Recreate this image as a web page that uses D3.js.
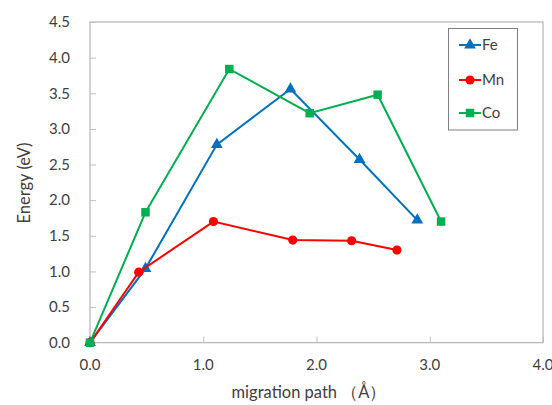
<!DOCTYPE html>
<html>
<head>
<meta charset="utf-8">
<script src="https://cdn.jsdelivr.net/npm/d3@7"></script>
<style>
  html, body { margin: 0; padding: 0; background: #fff; }
  svg { display: block; }
  text { font-family: Lato, "Open Sans", sans-serif; fill: #404040; }
</style>
</head>
<body>
<svg id="chart" width="552" height="405"></svg>
<script>
// migration path (Å) and energy (eV) for each transition metal
const feX = [0, 0.49, 1.12, 1.77, 2.38, 2.89];
const feY = [0, 1.04, 2.78, 3.56, 2.57, 1.72];
const mnX = [0, 0.43, 1.09, 1.79, 2.31, 2.71];
const mnY = [0, 0.99, 1.70, 1.44, 1.43, 1.30];
const coX = [0, 0.49, 1.23, 1.94, 2.54, 3.10];
const coY = [0, 1.83, 3.84, 3.22, 3.48, 1.70];

const seriesNames = ["Fe", "Mn", "Co"];
const xTicks = [0, 1, 2, 3, 4];
const yTicks = [0, 0.5, 1, 1.5, 2, 2.5, 3, 3.5, 4, 4.5];

const series = [
  { name: "Fe", xs: feX, ys: feY, color: "#0070C0", symbol: d3.symbolTriangle, size: 60 },
  { name: "Mn", xs: mnX, ys: mnY, color: "#FF0000", symbol: d3.symbolCircle, size: 66 },
  { name: "Co", xs: coX, ys: coY, color: "#00B050", symbol: d3.symbolSquare, size: 72 }
];

const svg = d3.select("#chart");
const plotL = 90, plotR = 543, plotT = 22, plotB = 342.7;

const x = d3.scaleLinear().domain([0, 4]).range([plotL, plotR]);
const y = d3.scaleLinear().domain([0, 4.5]).range([plotB, plotT]);

// plot frame
svg.append("rect")
  .attr("x", plotL).attr("y", plotT)
  .attr("width", plotR - plotL).attr("height", plotB - plotT)
  .attr("fill", "none").attr("stroke", "#a6a6a6").attr("stroke-width", 1);

// inside ticks
const yAxis = d3.axisRight(y).tickValues(yTicks).tickSize(6).tickFormat("");
svg.append("g").attr("transform", `translate(${plotL},0)`).call(yAxis)
  .call(g => g.select(".domain").remove())
  .call(g => g.selectAll("line").attr("stroke", "#bfbfbf"));
const xAxis = d3.axisTop(x).tickValues(xTicks).tickSize(6).tickFormat("");
svg.append("g").attr("transform", `translate(0,${plotB})`).call(xAxis)
  .call(g => g.select(".domain").remove())
  .call(g => g.selectAll("line").attr("stroke", "#bfbfbf"));

// tick labels
svg.append("g").selectAll("text").data(yTicks).join("text")
  .attr("x", plotL - 20).attr("y", d => y(d)).attr("dy", "0.35em")
  .attr("text-anchor", "end").attr("font-size", 15)
  .text(d => d3.format(".1f")(d));
svg.append("g").selectAll("text").data(xTicks).join("text")
  .attr("x", d => x(d)).attr("y", plotB + 22).attr("dy", "0.35em")
  .attr("text-anchor", "middle").attr("font-size", 15)
  .text(d => d3.format(".1f")(d));

// axis titles
svg.append("text")
  .attr("transform", `translate(30,183) rotate(-90)`)
  .attr("text-anchor", "middle").attr("font-size", 16.5)
  .text("Energy  (eV)");
svg.append("text")
  .attr("x", 309).attr("y", 398)
  .attr("text-anchor", "middle").attr("font-size", 16.5)
  .text("migration path （Å）");

// series lines and markers
const line = d3.line().x(d => x(d[0])).y(d => y(d[1]));
series.forEach(s => {
  const pts = s.xs.map((v, i) => [v, s.ys[i]]);
  svg.append("path").datum(pts)
    .attr("d", line).attr("fill", "none")
    .attr("stroke", s.color).attr("stroke-width", 2);
  svg.append("g").selectAll("path").data(pts).join("path")
    .attr("transform", d => `translate(${x(d[0])},${y(d[1])})`)
    .attr("d", d3.symbol().type(s.symbol).size(s.size))
    .attr("fill", s.color);
});

// legend
const lg = svg.append("g");
lg.append("rect")
  .attr("x", 448.5).attr("y", 28.5).attr("width", 69).attr("height", 101.5)
  .attr("fill", "#fff").attr("stroke", "#7f7f7f").attr("stroke-width", 1);
const legendRows = [45, 80, 113];
series.forEach((s, i) => {
  const ly = legendRows[i];
  lg.append("line").attr("x1", 459).attr("x2", 481).attr("y1", ly).attr("y2", ly)
    .attr("stroke", s.color).attr("stroke-width", 2);
  lg.append("path").attr("transform", `translate(470,${ly})`)
    .attr("d", d3.symbol().type(s.symbol).size(s.size)).attr("fill", s.color);
  lg.append("text").attr("x", 482).attr("y", ly).attr("dy", "0.35em")
    .attr("font-size", 15).attr("fill", "#262626").text(seriesNames[i]);
});
</script>
</body>
</html>
